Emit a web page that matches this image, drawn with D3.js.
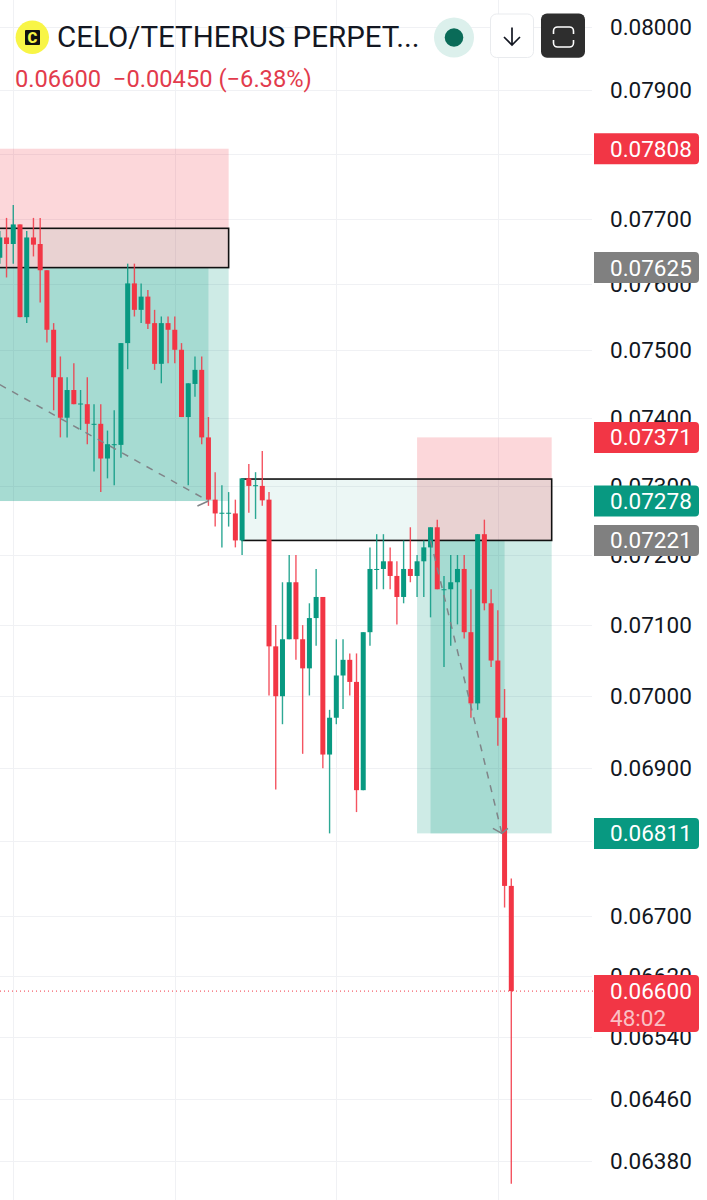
<!DOCTYPE html>
<html>
<head>
<meta charset="utf-8">
<style>
  html, body { margin: 0; padding: 0; background: #fff; }
  svg { display: block; }
  text { font-family: Roboto, sans-serif; }
</style>
<script src="https://cdn.jsdelivr.net/npm/d3@7/dist/d3.min.js"></script>
</head>
<body>
<svg id="chart" width="707" height="1200"></svg>
<script>
// Candle series, one entry per bar, in USDT
const opens = [.07640,.07671,.07661,.07691,.07550,.07671,.07661,.07621,.07531,.07460,.07400,.07441,.07420,.07420,.07391,.07391,.07340,.07361,.07360,.07511,
  .07601,.07561,.07581,.07541,.07480,.07541,.07531,.07501,.07401,.07450,.07471,.07371,.07280,.07261,.07261,.07260,.07221,.07311,.07301,.07300,
  .07280,.07070,.07000,.07080,.07161,.07080,.07039,.07110,.07140,.06919,.06970,.07029,.07051,.07020,.06870,.07090,.07180,.07180,.07191,.07170,
  .07140,.07180,.07170,.07191,.07211,.07240,.07151,.07151,.07161,.07180,.07090,.06990,.07230,.07131,.07050,.06970,.06740];
const closes = [.07671,.07661,.07691,.07550,.07671,.07660,.07621,.07531,.07460,.07400,.07441,.07420,.07421,.07391,.07391,.07340,.07361,.07361,.07511,.07601,
  .07561,.07581,.07540,.07480,.07541,.07531,.07501,.07401,.07451,.07471,.07371,.07280,.07260,.07261,.07261,.07221,.07311,.07300,.07301,.07279,
  .07070,.07000,.07080,.07161,.07080,.07039,.07110,.07140,.06919,.06970,.07029,.07051,.07020,.06870,.07090,.07180,.07180,.07191,.07170,.07140,
  .07180,.07170,.07191,.07211,.07240,.07151,.07151,.07161,.07180,.07090,.06990,.07230,.07131,.07050,.06970,.06740,.06600];
const highs = [.07681,.07701,.07721,.07691,.07681,.07701,.07701,.07621,.07541,.07491,.07460,.07481,.07441,.07460,.07420,.07420,.07381,.07411,.07511,.07631,
  .07631,.07601,.07591,.07561,.07551,.07551,.07551,.07511,.07451,.07491,.07491,.07401,.07320,.07301,.07291,.07280,.07311,.07332,.07320,.07351,
  .07291,.07100,.07161,.07200,.07200,.07100,.07131,.07180,.07140,.06981,.07080,.07080,.07060,.07060,.07090,.07211,.07230,.07230,.07211,.07191,
  .07221,.07240,.07200,.07221,.07240,.07251,.07170,.07200,.07200,.07200,.07151,.07230,.07251,.07151,.07121,.07010,.06750];
const lows = [.07631,.07610,.07631,.07550,.07541,.07642,.07572,.07512,.07411,.07371,.07371,.07420,.07382,.07361,.07321,.07291,.07311,.07301,.07341,.07472,
  .07551,.07541,.07532,.07471,.07451,.07481,.07481,.07401,.07301,.07431,.07361,.07271,.07241,.07211,.07241,.07211,.07200,.07261,.07252,.07271,
  .07001,.06871,.06961,.07080,.07051,.06920,.07001,.07071,.06900,.06811,.06961,.06982,.07001,.06840,.06870,.07071,.07151,.07151,.07151,.07101,
  .07131,.07161,.07140,.07140,.07111,.07151,.07041,.07071,.07101,.07081,.06970,.06981,.07121,.07041,.06931,.06711,.06351];

// Price axis
const tickValues = [.08,.079,.078,.077,.076,.075,.074,.073,.072,.071,.07,.069,.068,.067,.0662,.0654,.0646,.0638];
const gridBars = [2,26,50,74];
const lastPrice = 0.066;

// Position tools and zones, in [startBar, endBar, topPrice, bottomPrice]
const shortZones = [[-6,34,.07808,.07625],[62,82,.07371,.07221]];
const targetZones = [[-6,34,.07625,.07278],[62,82,.07221,.06811]];
const targetCores = [[-6,31,.07625,.07278],[64,75,.07221,.06811]];
const boxes = [[-6,34,.07685,.07625],[36,82,.07310,.07221]];

// Dashed projections, as [bar, price] pairs
const projections = [[[0,.07449],[31,.07278]],[[64,.07221],[74.6,.06811]]];

// Price tags on the axis
const tagPrices = [.07808,.07625,.07371,.07278,.07221,.06811];
const tagColors = ["#f23645","#808080","#f23645","#089981","#808080","#089981"];

const RED = "#f23645", GREEN = "#089981";
const fmt = d3.format(".5f");
const svg = d3.select("#chart");

const x = d3.scaleLinear().domain([0,76]).range([-0.2,511.3]);
const y = d3.scaleLog().domain([.08,.0638]).range([27,1161]);
const bars = d3.range(opens.length);
const plotRight = 592;

// Gridlines
const grid = svg.append("g").attr("stroke","#f0f1f4").attr("stroke-width",1);
grid.selectAll(".h").data(tickValues).join("line")
  .attr("x1",0).attr("x2",plotRight)
  .attr("y1",d => Math.round(y(d))+.5).attr("y2",d => Math.round(y(d))+.5);
grid.selectAll(".v").data(gridBars).join("line")
  .attr("x1",d => Math.round(x(d))+.5).attr("x2",d => Math.round(x(d))+.5)
  .attr("y1",0).attr("y2",1200);

// Zones sit under the candles
const zoneRect = (sel, data, fill) => sel.selectAll(null).data(data).join("rect")
  .attr("x",d => x(d[0])).attr("width",d => x(d[1])-x(d[0]))
  .attr("y",d => y(d[2])).attr("height",d => y(d[3])-y(d[2]))
  .attr("fill",fill);
const zones = svg.append("g");
zoneRect(zones.append("g"), shortZones, "rgba(242,54,69,0.2)");
zoneRect(zones.append("g"), targetZones, "rgba(8,153,129,0.2)");
zoneRect(zones.append("g"), targetCores, "rgba(8,153,129,0.2)");
zoneRect(zones.append("g"), boxes, "rgba(8,153,129,0.08)");
zones.append("g").selectAll("rect").data(boxes).join("rect")
  .attr("x",d => x(d[0])).attr("width",d => x(d[1])-x(d[0]))
  .attr("y",d => y(d[2])).attr("height",d => y(d[3])-y(d[2]))
  .attr("fill","none").attr("stroke","#111").attr("stroke-width",1.6);

// Candles
const candles = svg.append("g").selectAll("g").data(bars).join("g")
  .attr("fill",i => closes[i] >= opens[i] ? GREEN : RED)
  .attr("stroke",i => closes[i] >= opens[i] ? GREEN : RED);
candles.append("line")
  .attr("x1",i => x(i)).attr("x2",i => x(i))
  .attr("y1",i => y(highs[i])).attr("y2",i => y(lows[i]))
  .attr("stroke-width",1.4).attr("stroke-opacity",.85);
candles.append("rect")
  .attr("x",i => x(i)-2.5).attr("width",5)
  .attr("y",i => y(Math.max(opens[i],closes[i])))
  .attr("height",i => Math.max(1,Math.abs(y(opens[i])-y(closes[i]))))
  .attr("stroke","none");

// Dashed projections with open arrowheads
const proj = svg.append("g").attr("fill","none").attr("stroke","#808488").attr("stroke-width",1.5);
proj.selectAll("line").data(projections).join("line")
  .attr("x1",d => x(d[0][0])).attr("y1",d => y(d[0][1]))
  .attr("x2",d => x(d[1][0])).attr("y2",d => y(d[1][1]))
  .attr("stroke-dasharray","7 7");
proj.append("path")
  .attr("d",() => {
    const a = projections[0][1], b = projections[1][1];
    const ax = x(a[0]), ay = y(a[1]), bx = x(b[0]), by = y(b[1]);
    return `M${ax-11},${ay+5}L${ax},${ay}M${bx-9},${by-5}L${bx},${by}L${bx+6},${by-5}`;
  });

// Last price line
svg.append("line")
  .attr("x1",0).attr("x2",594).attr("y1",y(lastPrice)).attr("y2",y(lastPrice))
  .attr("stroke",RED).attr("stroke-width",1).attr("stroke-dasharray","1 3");

// Tick labels
svg.append("g").selectAll("text").data(tickValues).join("text")
  .attr("x",610).attr("y",d => y(d)+8)
  .attr("font-size",22.5).attr("fill","#131722")
  .text(d => fmt(d));

// Price tags, square on the chart side and rounded on the outside
const tagPath = (t,h) => `M594,${t}H695a4,4 0 0 1 4,4V${t+h-4}a4,4 0 0 1 -4,4H594Z`;
const tags = svg.append("g").selectAll("g").data(tagPrices).join("g");
tags.append("path")
  .attr("d",d => tagPath(y(d)-15.5,31))
  .attr("fill",(d,i) => tagColors[i]);
tags.append("text")
  .attr("x",610).attr("y",d => y(d)+8)
  .attr("font-size",22.5).attr("fill","#fff")
  .text(d => fmt(d));

// Last price tag with the bar countdown
const lastY = y(lastPrice);
svg.append("path").attr("d",tagPath(lastY-16,57)).attr("fill",RED);
svg.append("text").attr("x",610).attr("y",lastY+7.5)
  .attr("font-size",22.5).attr("fill","#fff").text(fmt(lastPrice));
svg.append("text").attr("x",610).attr("y",lastY+35)
  .attr("font-size",22.5).attr("fill","#fff").attr("fill-opacity",.7).text("48:02");

// Symbol header
const head = svg.append("g");
head.append("circle").attr("cx",32.3).attr("cy",37.3).attr("r",16.7).attr("fill","#f8f546");
head.append("rect").attr("x",25).attr("y",30).attr("width",15).attr("height",15).attr("rx",1).attr("fill","#111");
head.append("text").attr("x",32.5).attr("y",42.8).attr("text-anchor","middle")
  .attr("font-size",15).attr("font-weight",900).attr("fill","#f8f546").text("C");
head.append("text").attr("x",57).attr("y",47)
  .attr("font-size",29.5).attr("fill","#131722").text("CELO/TETHERUS PERPET...");
head.append("text").attr("x",15).attr("y",87)
  .attr("font-size",23.7).attr("fill","#e23b4c").attr("xml:space","preserve")
  .text("0.06600  \u22120.00450 (\u22126.38%)");
head.append("circle").attr("cx",454).attr("cy",37.5).attr("r",20).attr("fill","#dcf0ec");
head.append("circle").attr("cx",454).attr("cy",37.5).attr("r",9.3).attr("fill","#0a6b58");
head.append("rect").attr("x",490.5).attr("y",14).attr("width",43).attr("height",43.5).attr("rx",6)
  .attr("fill","#fff").attr("stroke","#e9ebee");
head.append("path").attr("d","M512,27.5V45M504,37L512,45L520,37")
  .attr("fill","none").attr("stroke","#131722").attr("stroke-width",1.7);
head.append("rect").attr("x",541).attr("y",13.5).attr("width",44).attr("height",44.3).attr("rx",6).attr("fill","#2e2e2e");
head.append("path").attr("d","M553.5,34V31a4,4 0 0 1 4,-4H569.5a4,4 0 0 1 4,4V34M553.5,40V43a4,4 0 0 0 4,4H569.5a4,4 0 0 0 4,-4V40")
  .attr("fill","none").attr("stroke","#fff").attr("stroke-width",1.6);
</script>
</body>
</html>
